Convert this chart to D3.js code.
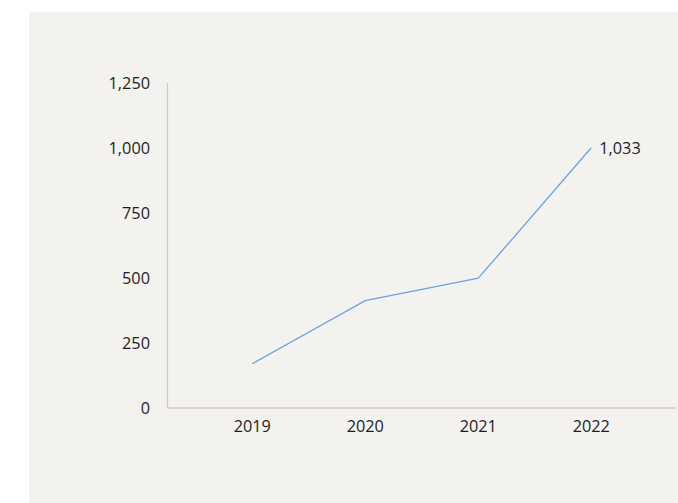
<!DOCTYPE html>
<html><head><meta charset="utf-8">
<script src="https://cdn.jsdelivr.net/npm/d3@7"></script>
<style>html,body{margin:0;padding:0;background:#fff;}</style>
</head><body>
<script>
const categories = ["2019","2020","2021","2022"];
const values = [170, 413, 499, 1001];
const yTicks = [0, 250, 500, 750, 1000, 1250];
const endLabel = "1,033";

const W = 678, H = 503;
const svg = d3.select("body").append("svg").attr("width", W).attr("height", H);
svg.append("rect").attr("x", 29).attr("y", 12).attr("width", W - 29).attr("height", H - 12).attr("fill", "#f3f2ef");

const x = d3.scalePoint().domain(categories).range([167.5, 676]).padding(0.75);
const y = d3.scaleLinear().domain([0, 1250]).range([408, 83]);

const font = "'Open Sans', 'Noto Sans', sans-serif";
const fs = 16.3;
const g = svg.append("g");

g.append("line").attr("x1", 167.5).attr("x2", 167.5).attr("y1", y(1250)).attr("y2", y(0))
  .attr("stroke", "#d3c9c0").attr("stroke-width", 1.3);
g.append("line").attr("x1", 167.5).attr("x2", 676).attr("y1", y(0)).attr("y2", y(0))
  .attr("stroke", "#d3c9c0").attr("stroke-width", 1.3);

g.selectAll(".yl").data(yTicks).join("text")
  .attr("x", 150).attr("y", d => y(d) + 2).attr("text-anchor", "end").attr("dominant-baseline", "middle")
  .attr("font-family", font).attr("font-size", fs).attr("fill", "#1e1e1e")
  .text(d => d3.format(",")(d));

g.selectAll(".xl").data(categories).join("text")
  .attr("x", d => x(d)).attr("y", 428).attr("text-anchor", "middle").attr("dominant-baseline", "middle")
  .attr("font-family", font).attr("font-size", fs).attr("fill", "#1e1e1e")
  .text(d => d);

const line = d3.line().x((d, i) => x(categories[i])).y(d => y(d));
g.append("path").datum(values).attr("d", line).attr("fill", "none")
  .attr("stroke", "#6fa1e2").attr("stroke-width", 1.3);

g.append("text").attr("x", x(categories[3]) + 8).attr("y", y(values[3]) + 2)
  .attr("dominant-baseline", "middle").attr("font-family", font).attr("font-size", fs).attr("fill", "#1e1e1e")
  .text(endLabel);
</script>
</body></html>
